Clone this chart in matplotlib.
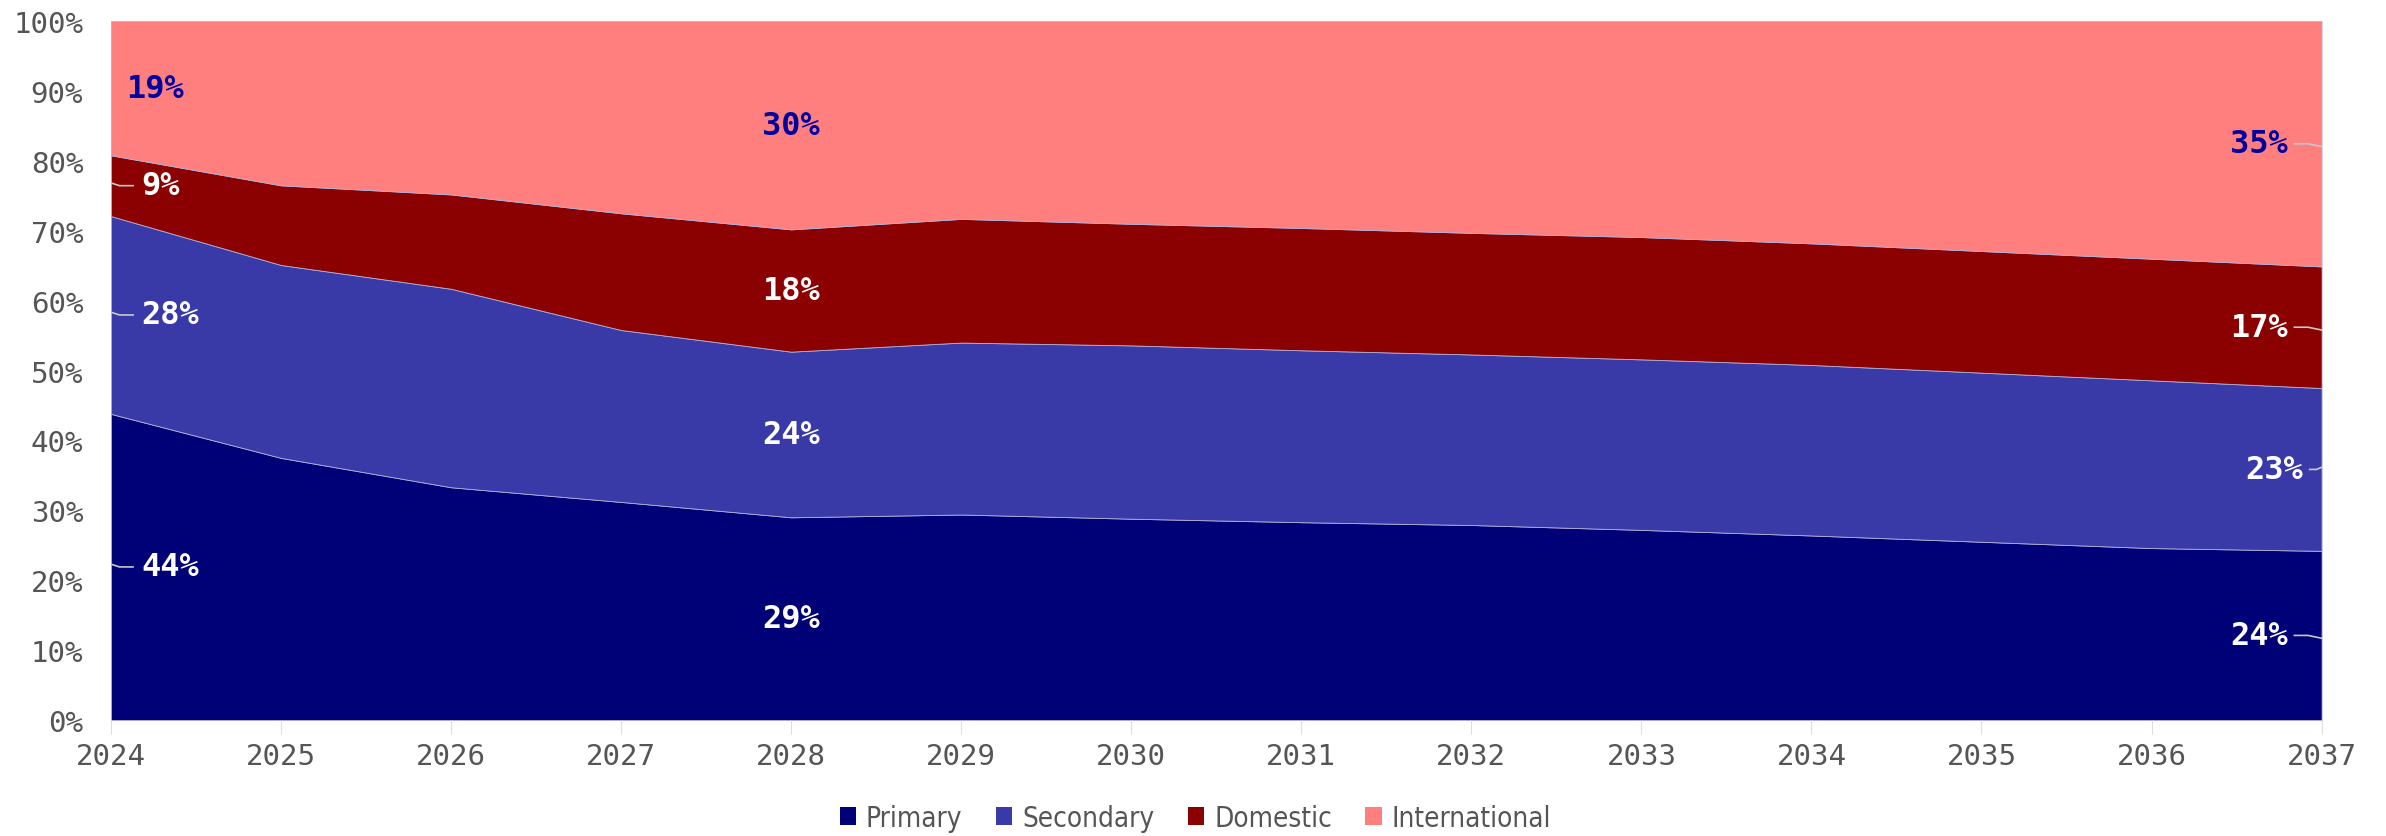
import matplotlib.pyplot as plt
from matplotlib.patches import Patch
import numpy as np

years = np.arange(2024, 2038)
series_names = ['Primary', 'Secondary', 'Domestic', 'International']

# shares in percent per year
primary = [43.8, 37.5, 33.3, 31.2, 29.0, 29.4, 28.8, 28.3, 27.9, 27.2, 26.4, 25.5, 24.6, 24.2]
secondary = [28.3, 27.6, 28.4, 24.6, 23.7, 24.6, 24.8, 24.6, 24.4, 24.4, 24.4, 24.2, 24.0, 23.3]
domestic = [8.7, 11.4, 13.5, 16.7, 17.5, 17.7, 17.4, 17.5, 17.4, 17.5, 17.4, 17.4, 17.4, 17.4]
international = [100 - a - b - c for a, b, c in zip(primary, secondary, domestic)]

colors = ['#000077', '#3939a8', '#8b0000', '#ff7f7f']
label_colors = ['white', 'white', 'white', '#0000a0']
label_years = [2024, 2028, 2037]

fig = plt.figure(figsize=(23.86, 8.37), dpi=100)
ax = fig.add_axes([0.0465, 0.1386, 0.9265, 0.835])

data = np.array([primary, secondary, domestic, international])
ax.stackplot(years, data, colors=colors, linewidth=0.6, edgecolor='#b0b0d8')

ax.set_xlim(2024, 2037)
ax.set_ylim(0, 100)
ax.set_xticks(years)
ax.set_yticks(np.arange(0, 101, 10))
ax.set_yticklabels([f'{v}%' for v in range(0, 101, 10)])
for lbl in ax.get_xticklabels() + ax.get_yticklabels():
    lbl.set_fontfamily('DejaVu Sans Mono')
    lbl.set_fontsize(21)
    lbl.set_color('#555555')
ax.tick_params(axis='y', length=0, pad=20)
ax.tick_params(axis='x', length=10, color='#dddddd', pad=6)
for s in ax.spines.values():
    s.set_visible(False)

# value labels at the start, middle and end years
cum = np.cumsum(data, axis=0)
mids = cum - data / 2
label_font = dict(fontfamily='DejaVu Sans Mono', fontweight='bold', fontsize=23, va='center')
for i in range(4):
    for yr in label_years:
        j = yr - 2024
        val = data[i, j]
        y = mids[i, j]
        txt = f'{val:.0f}%'
        if yr == 2024:
            if i == 3:
                ax.text(2024.09, y, txt, color=label_colors[i], ha='left', **label_font)
            else:
                ax.plot([2024.0, 2024.05, 2024.13], [y + 0.4, y, y], color='#c8c8c8', lw=1.2)
                ax.text(2024.18, y, txt, color=label_colors[i], ha='left', **label_font)
        elif yr == 2037:
            if i == 1:
                ax.plot([2036.93, 2036.97, 2037.0], [y, y, y + 0.3], color='#c8c8c8', lw=1.2)
                ax.text(2036.89, y, txt, color=label_colors[i], ha='right', **label_font)
            else:
                ax.plot([2036.84, 2036.92, 2037.0], [y, y, y - 0.4], color='#c8c8c8', lw=1.2)
                ax.text(2036.80, y, txt, color=label_colors[i], ha='right', **label_font)
        else:
            ax.text(yr, y, txt, color=label_colors[i], ha='center', **label_font)

handles = [Patch(facecolor=c, edgecolor='none') for c in colors]
fig.legend(handles, series_names, loc='center', bbox_to_anchor=(0.501, 0.022), ncol=4,
           frameon=False, handlelength=0.6, handleheight=0.6, handletextpad=0.35,
           columnspacing=1.2,
           prop=dict(family='DejaVu Sans', stretch='condensed', size=20))
for t in fig.legends[0].get_texts():
    t.set_color('#555555')

fig.savefig('out.png', dpi=100)
